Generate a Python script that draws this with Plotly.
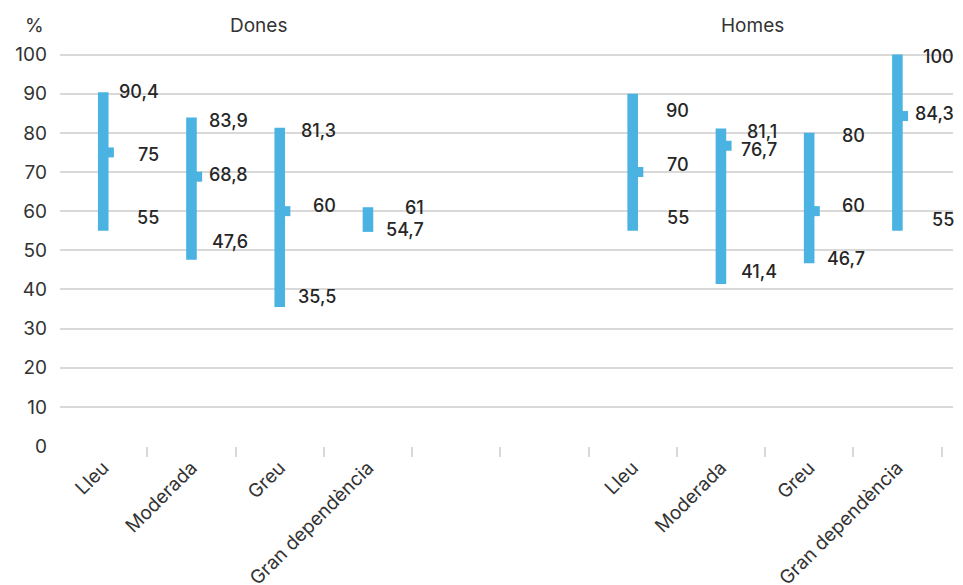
import plotly.graph_objects as go

# ---- data ----
categories = ["Lleu", "Moderada", "Greu", "Gran dependència", "", "",
              "Lleu", "Moderada", "Greu", "Gran dependència"]
groups = ["Dones", "Homes"]

dones_max = [90.4, 83.9, 81.3, 61]
dones_med = [75, 68.8, 60, None]
dones_min = [55, 47.6, 35.5, 54.7]

homes_max = [90, 81.1, 80, 100]
homes_med = [70, 76.7, 60, 84.3]
homes_min = [55, 41.4, 46.7, 55]

y_ticks = list(range(0, 101, 10))

# ---- style / placement (not data) ----
BLUE = "#4ab3e1"
GRID = "#d9d9d9"
TXT = "#262626"
FONT = "Inter"
X_RANGE = [-0.49, 9.63]
dones_idx = [0, 1, 2, 3]
homes_idx = [6, 7, 8, 9]
# vertical pixel nudges of value labels (positive = up), [max, med, min]
dones_shift = [[1, -2, 13], [-3, 2, 18], [-3, 6, 11], [0, 0, 2]]
homes_shift = [[-17, 8, 13], [-3, -4, 12], [-3, 6, 5], [-2, 3, 11]]


def fmt(v):
    return f"{v:g}".replace(".", ",")


def xpaper(xv):
    return (xv - X_RANGE[0]) / (X_RANGE[1] - X_RANGE[0])


fig = go.Figure()
annotations = []

for idx, mx, md, mn, sh in [(dones_idx, dones_max, dones_med, dones_min, dones_shift),
                            (homes_idx, homes_max, homes_med, homes_min, homes_shift)]:
    fig.add_trace(go.Bar(
        x=idx, y=[a - b for a, b in zip(mx, mn)], base=mn, width=0.12,
        marker=dict(color=BLUE, line=dict(width=0)), showlegend=False,
        hoverinfo="skip"))
    mx_i = [i for i, v in zip(idx, md) if v is not None]
    md_v = [v for v in md if v is not None]
    fig.add_trace(go.Scatter(
        x=[i + 0.064 for i in mx_i], y=md_v, mode="markers",
        marker=dict(symbol="square", size=10, color=BLUE, line=dict(width=0)),
        showlegend=False, hoverinfo="skip", cliponaxis=False))
    for k, i in enumerate(idx):
        for j, v in enumerate([mx[k], md[k], mn[k]]):
            if v is None:
                continue
            annotations.append(dict(
                x=xpaper(i + 0.66), y=v, xref="paper", yref="y", text=fmt(v),
                showarrow=False, xanchor="right", yanchor="middle",
                yshift=sh[k][j],
                font=dict(family=FONT, size=18, color=TXT, weight=500)))

# header texts
hfont = dict(family=FONT, size=19, color="#333")
for hx, htxt in [(-0.029, "%"), (0.222, groups[0]), (0.775, groups[1])]:
    annotations.append(dict(x=hx, y=1.024, xref="paper", yref="paper", text=htxt,
                            showarrow=False, xanchor="center", yanchor="middle",
                            font=hfont))

fig.update_layout(
    width=963, height=585,
    margin=dict(l=60, r=10, t=35, b=139, autoexpand=False),
    paper_bgcolor="white", plot_bgcolor="white",
    barmode="overlay",
    annotations=annotations,
    xaxis=dict(
        type="linear", range=X_RANGE,
        tickmode="array", tickvals=list(range(len(categories))), ticktext=categories,
        tickangle=-45, ticks="", showgrid=False, zeroline=False, showline=False,
        tickfont=dict(family=FONT, size=19, color="#333"),
        ticklabelstandoff=6,
        automargin=False,
        minor=dict(tickmode="array", tickvals=[i + 0.5 for i in range(len(categories))],
                   ticks="outside", ticklen=10, tickwidth=1.5, tickcolor=GRID,
                   showgrid=False),
    ),
    yaxis=dict(
        range=[0, 105], tickmode="array", tickvals=y_ticks,
        showgrid=True, gridcolor=GRID, gridwidth=1.5, zeroline=False,
        showline=False, ticks="", ticklabelstandoff=12,
        tickfont=dict(family=FONT, size=19, color="#333"),
        automargin=False,
    ),
)

fig.write_html("out.html")
